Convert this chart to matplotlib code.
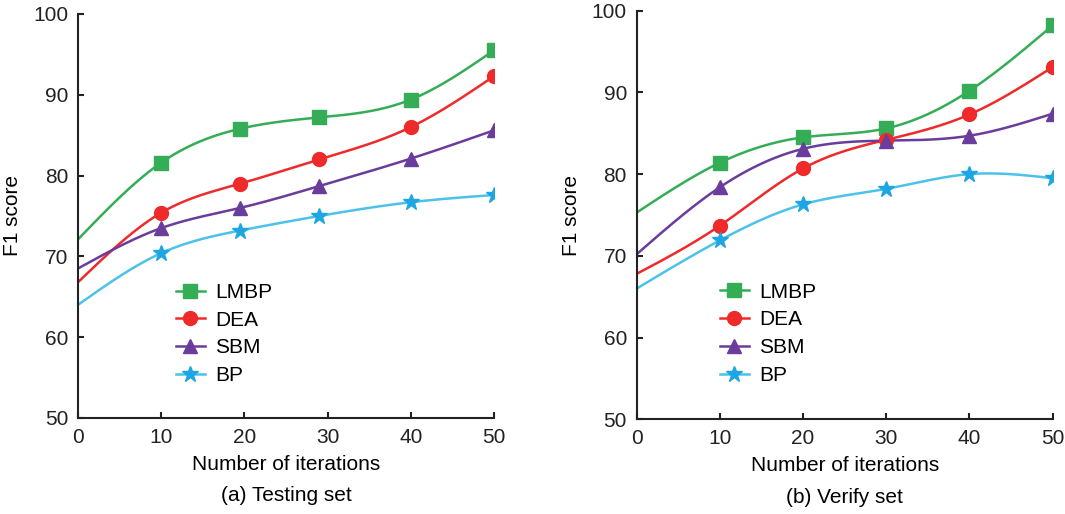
import matplotlib.pyplot as plt
import numpy as np
from matplotlib.lines import Line2D

plt.rcParams['font.family'] = ['Liberation Sans', 'DejaVu Sans']

# (a) Testing set
x_test = [0, 10, 19.5, 29, 40, 50]
lmbp_test = [72.1, 81.6, 85.8, 87.2, 89.4, 95.5]
dea_test = [66.8, 75.4, 79.0, 82.0, 86.0, 92.3]
sbm_test = [68.5, 73.5, 76.0, 78.7, 82.1, 85.6]
bp_test = [64.0, 70.4, 73.2, 75.0, 76.7, 77.6]

# (b) Verify set
x_ver = [0, 10, 20, 30, 40, 50]
lmbp_ver = [75.3, 81.4, 84.5, 85.6, 90.2, 98.2]
dea_ver = [67.8, 73.7, 80.7, 84.2, 87.3, 93.1]
sbm_ver = [70.2, 78.4, 83.1, 84.1, 84.7, 87.4]
bp_ver = [66.0, 71.9, 76.3, 78.2, 80.0, 79.5]

names = ["LMBP", "DEA", "SBM", "BP"]
colors = ["#35ad57", "#ee2a2a", "#6a3c9c", "#4cc2ea"]
mcolors = ["#35ad57", "#ee2a2a", "#6a3c9c", "#1ea6e2"]
markers = ["s", "o", "^", "*"]
msizes = [10, 10, 10, 12]


def smooth(x, y, n=300):
    # natural cubic spline, just for drawing the smooth line
    x = np.asarray(x, float)
    y = np.asarray(y, float)
    h = np.diff(x)
    m = len(x)
    A = np.zeros((m, m))
    b = np.zeros(m)
    A[0, 0] = 1
    A[-1, -1] = 1
    for i in range(1, m - 1):
        A[i, i - 1] = h[i - 1]
        A[i, i] = 2 * (h[i - 1] + h[i])
        A[i, i + 1] = h[i]
        b[i] = 3 * ((y[i + 1] - y[i]) / h[i] - (y[i] - y[i - 1]) / h[i - 1])
    c = np.linalg.solve(A, b)
    bb = (y[1:] - y[:-1]) / h - h * (2 * c[:-1] + c[1:]) / 3
    d = (c[1:] - c[:-1]) / (3 * h)
    xs = np.linspace(x[0], x[-1], n)
    idx = np.clip(np.searchsorted(x, xs) - 1, 0, m - 2)
    dx = xs - x[idx]
    ys = y[idx] + bb[idx] * dx + c[idx] * dx ** 2 + d[idx] * dx ** 3
    return xs, ys


fig = plt.figure(figsize=(10.65, 5.14), dpi=100)
ax1 = fig.add_axes([0.0732, 0.1868, 0.3906, 0.786])
ax2 = fig.add_axes([0.5978, 0.1842, 0.3906, 0.795])

panels = [
    (ax1, x_test, [lmbp_test, dea_test, sbm_test, bp_test], "(a) Testing set", 0.215),
    (ax2, x_ver, [lmbp_ver, dea_ver, sbm_ver, bp_ver], "(b) Verify set", 0.18),
]

for ax, xs, series, sub, lx in panels:
    for i, ys in enumerate(series):
        sx, sy = smooth(xs, ys)
        ax.plot(sx, sy, color=colors[i], lw=1.8, zorder=2)
        ax.plot(xs[1:], ys[1:], ls="none", marker=markers[i], ms=msizes[i],
                color=mcolors[i], mec=mcolors[i], zorder=3)
    ax.set_xlim(0, 50)
    ax.set_ylim(50, 100)
    ax.set_xticks([0, 10, 20, 30, 40, 50])
    ax.set_yticks([50, 60, 70, 80, 90, 100])
    for s in ["top", "right"]:
        ax.spines[s].set_visible(False)
    for s in ["left", "bottom"]:
        ax.spines[s].set_linewidth(1.5)
        ax.spines[s].set_color("#222222")
    ax.tick_params(direction="in", length=4, width=1.5, labelsize=15, pad=7,
                   colors="#222222")
    ax.set_xlabel("Number of iterations", fontsize=15, labelpad=6)
    ax.set_ylabel("F1 score", fontsize=15, labelpad=8)
    ax.text(0.5, -0.168, sub, transform=ax.transAxes, ha="center", va="top",
            fontsize=15)
    handles = [Line2D([], [], color=colors[i], lw=1.8, marker=markers[i],
                      ms=msizes[i], mfc=mcolors[i], mec=mcolors[i])
               for i in range(4)]
    ax.legend(handles, names, loc="upper left", bbox_to_anchor=(lx, 0.355),
              frameon=False, fontsize=15, handlelength=1.4, handletextpad=0.5,
              labelspacing=0.42, borderaxespad=0)

fig.savefig("out.png", dpi=100)
